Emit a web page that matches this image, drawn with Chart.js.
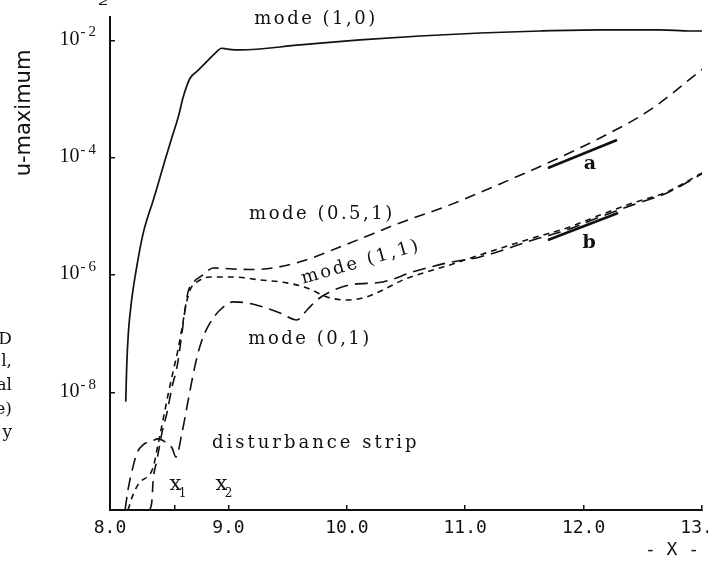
<!DOCTYPE html>
<html>
<head>
<meta charset="utf-8">
<script src="https://cdn.jsdelivr.net/npm/chart.js@4/dist/chart.umd.min.js"></script>
<style>
  html, body { margin: 0; padding: 0; background: #fff; overflow: hidden; }
  #wrap { position: relative; width: 708px; height: 561px; overflow: hidden; }
</style>
</head>
<body>
<div id="wrap"><canvas id="chart" width="730" height="561"></canvas></div>
<script>
const INK = '#111';

// axis ticks
const xTickValues = [8, 8.55, 9, 10, 11, 12, 13];
const xTickLabels = ['8.0', '', '9.0', '10.0', '11.0', '12.0', '13.0'];
const yTickValues = [1e-8, 1e-6, 1e-4, 1e-2];
const yTickExps = ['-8', '-6', '-4', '-2'];

// mode (1,0) - solid
const mode10X = [8.133, 8.141, 8.155, 8.183, 8.226, 8.281, 8.366, 8.408, 8.465, 8.521, 8.577, 8.619, 8.676, 8.732, 8.817, 8.887, 8.943, 8.986, 9.098, 9.605, 10.111, 10.618, 11.125, 11.632, 12.139, 12.645, 12.899, 13.0];
const mode10Y = [7.0e-9, 2.77e-8, 1.04e-7, 3.79e-7, 1.40e-6, 5.26e-6, 1.92e-5, 3.69e-5, 9.2e-5, 2.16e-4, 5.0e-4, 1.10e-3, 2.27e-3, 2.94e-3, 4.36e-3, 6.05e-3, 7.36e-3, 7.16e-3, 6.89e-3, 8.38e-3, 1.02e-2, 1.19e-2, 1.34e-2, 1.45e-2, 1.51e-2, 1.51e-2, 1.45e-2, 1.45e-2];

// mode (0.5,1) - long dashes
const mode051X = [8.338, 8.355, 8.363, 8.397, 8.439, 8.481, 8.524, 8.566, 8.608, 8.633, 8.659, 8.701, 8.785, 8.870, 9.039, 9.208, 9.377, 9.605, 10.027, 10.449, 10.872, 11.294, 11.716, 12.139, 12.561, 13.0];
const mode051Y = [1.0e-10, 1.49e-10, 2.90e-10, 7.13e-10, 2.06e-9, 4.51e-9, 1.25e-8, 2.74e-8, 1.04e-7, 2.56e-7, 5.20e-7, 7.40e-7, 1.01e-6, 1.33e-6, 1.28e-6, 1.25e-6, 1.33e-6, 1.69e-6, 3.55e-6, 7.78e-6, 1.58e-5, 3.59e-5, 8.51e-5, 2.18e-4, 6.55e-4, 3.2e-3];

// mode (1,1) - short dashes
const mode11X = [8.152, 8.194, 8.253, 8.313, 8.363, 8.405, 8.448, 8.490, 8.532, 8.574, 8.608, 8.642, 8.676, 8.735, 8.845, 9.039, 9.267, 9.495, 9.664, 9.833, 9.985, 10.137, 10.306, 10.475, 10.728, 10.872, 11.125, 11.573, 11.860, 12.139, 12.417, 12.704, 13.0];
const mode11Y = [1.0e-10, 1.81e-10, 3.01e-10, 3.66e-10, 5.21e-10, 1.29e-9, 3.43e-9, 9.14e-9, 2.25e-8, 5.33e-8, 1.26e-7, 3.12e-7, 5.62e-7, 7.69e-7, 9.35e-7, 9.35e-7, 8.32e-7, 7.40e-7, 6.08e-7, 4.27e-7, 3.79e-7, 4.10e-7, 5.62e-7, 8.32e-7, 1.23e-6, 1.50e-6, 2.22e-6, 4.32e-6, 6.40e-6, 1.06e-5, 1.71e-5, 2.62e-5, 5.53e-5];

// mode (0,1) - long dashes, starts with the arc over the disturbance strip
const mode01X = [8.127, 8.152, 8.194, 8.228, 8.279, 8.355, 8.405, 8.465, 8.524, 8.557, 8.608, 8.650, 8.693, 8.735, 8.777, 8.845, 8.929, 9.039, 9.157, 9.292, 9.436, 9.579, 9.664, 9.748, 9.858, 10.027, 10.306, 10.559, 10.846, 11.125, 11.573, 11.860, 12.139, 12.417, 12.704, 13.0];
const mode01Y = [1.0e-10, 2.20e-10, 5.42e-10, 9.4e-10, 1.29e-9, 1.50e-9, 1.63e-9, 1.45e-9, 1.14e-9, 8.0e-10, 2.06e-9, 5.70e-9, 1.64e-8, 4.06e-8, 7.91e-8, 1.54e-7, 2.56e-7, 3.51e-7, 3.37e-7, 2.88e-7, 2.28e-7, 1.73e-7, 2.56e-7, 3.79e-7, 5.20e-7, 6.84e-7, 7.69e-7, 1.14e-6, 1.62e-6, 2.05e-6, 3.99e-6, 5.92e-6, 9.84e-6, 1.58e-5, 2.52e-5, 5.32e-5];

// short reference slopes a and b
const slopeAX = [11.699, 12.282];
const slopeAY = [6.73e-5, 2.02e-4];
const slopeBX = [11.699, 12.291];
const slopeBY = [3.99e-6, 1.15e-5];

const toPoints = (xs, ys) => xs.map((x, i) => ({ x, y: ys[i] }));

// curve labels, placed in data coordinates
const curveNotes = [
    { text: 'mode (1,0)', x: 9.74, y: Math.pow(10, -1.64), rot: 0 },
    { text: 'mode (0.5,1)', x: 9.79, y: Math.pow(10, -4.97), rot: 0 },
    { text: 'mode (1,1)', x: 10.12, y: Math.pow(10, -5.78), rot: -16 },
    { text: 'mode (0,1)', x: 9.69, y: Math.pow(10, -7.10), rot: 0 }
];

const figureText = {
    id: 'figureText',
    afterDraw(chart) {
        const ctx = chart.ctx;
        const xs = chart.scales.x;
        const ys = chart.scales.y;
        ctx.save();
        ctx.fillStyle = INK;

        // y tick labels 10^-n
        yTickValues.forEach((v, i) => {
            const py = ys.getPixelForValue(v);
            ctx.textBaseline = 'middle';
            ctx.textAlign = 'right';
            ctx.font = '15px "Liberation Serif"';
            ctx.letterSpacing = '3px';
            const ew = ctx.measureText(yTickExps[i]).width;
            ctx.fillText(yTickExps[i], 99, py - 8);
            ctx.letterSpacing = '0px';
            ctx.font = '20px "Liberation Serif"';
            ctx.fillText('10', 99 - ew - 1, py - 1);
        });

        // curve labels
        ctx.font = '18px "DejaVu Serif"';
        ctx.letterSpacing = '2.5px';
        ctx.textAlign = 'center';
        ctx.textBaseline = 'middle';
        curveNotes.forEach(n => {
            ctx.save();
            ctx.translate(xs.getPixelForValue(n.x), ys.getPixelForValue(n.y));
            ctx.rotate(n.rot * Math.PI / 180);
            ctx.fillText(n.text, 0, 0);
            ctx.restore();
        });

        ctx.textAlign = 'left';
        ctx.letterSpacing = '3px';
        ctx.fillText('disturbance strip', xs.getPixelForValue(8.861), ys.getPixelForValue(Math.pow(10, -8.86)));
        ctx.letterSpacing = '0px';

        // x1, x2 marks
        [[8.553, '1'], [8.942, '2']].forEach(([xv, sub]) => {
            const px = xs.getPixelForValue(xv);
            const py = ys.getPixelForValue(Math.pow(10, -9.6));
            ctx.textAlign = 'center';
            ctx.font = '21px "DejaVu Serif"';
            ctx.fillText('x', px, py - 2);
            ctx.font = '12px "DejaVu Serif"';
            ctx.fillText(sub, px + 7, py + 7);
        });

        // a, b
        ctx.font = 'bold 19px "DejaVu Serif"';
        ctx.textAlign = 'center';
        ctx.fillText('a', xs.getPixelForValue(12.054), ys.getPixelForValue(Math.pow(10, -4.10)));
        ctx.fillText('b', xs.getPixelForValue(12.046), ys.getPixelForValue(Math.pow(10, -5.45)));

        // axis titles
        ctx.font = '21px "DejaVu Sans"';
        ctx.save();
        ctx.translate(25, 113);
        ctx.rotate(-Math.PI / 2);
        ctx.fillText('u-maximum', 0, 0);
        ctx.restore();

        ctx.font = '18px "DejaVu Sans Mono"';
        ctx.fillText('- X -', 672, 550);

        // caption fragments cut at the left edge
        ctx.font = '17px "DejaVu Serif"';
        ctx.textAlign = 'right';
        [['D', 340], ['l,', 362], ['al', 386], ['e)', 410], ['y', 433]].forEach(([t, y]) => ctx.fillText(t, 12, y));

        ctx.font = '11px "DejaVu Sans"';
        ctx.save();
        ctx.translate(104, 2);
        ctx.rotate(-Math.PI / 2);
        ctx.textAlign = 'center';
        ctx.fillText('N', 0, 0);
        ctx.restore();

        ctx.restore();
    }
};

const lineSet = (data, dash, width) => ({
    data,
    borderColor: INK,
    borderWidth: width,
    borderDash: dash,
    pointRadius: 0,
    fill: false,
    cubicInterpolationMode: 'monotone'
});

new Chart(document.getElementById('chart'), {
    type: 'line',
    data: {
        datasets: [
            lineSet(toPoints(mode10X, mode10Y), [], 1.7),
            lineSet(toPoints(mode051X, mode051Y), [11, 7], 1.6),
            lineSet(toPoints(mode11X, mode11Y), [6, 5], 1.6),
            lineSet(toPoints(mode01X, mode01Y), [13, 7], 1.6),
            lineSet(toPoints(slopeAX, slopeAY), [], 2.6),
            lineSet(toPoints(slopeBX, slopeBY), [], 2.6)
        ]
    },
    options: {
        responsive: false,
        animation: false,
        devicePixelRatio: 1,
        layout: { padding: { left: 0, top: 17, right: 28, bottom: 0 } },
        plugins: { legend: { display: false }, tooltip: { enabled: false } },
        scales: {
            x: {
                type: 'linear',
                min: 8,
                max: 13,
                afterBuildTicks: s => { s.ticks = xTickValues.map(v => ({ value: v })); },
                afterFit: s => { s.height = 51; s.paddingLeft = 0; s.paddingRight = 0; },
                grid: { drawOnChartArea: false, drawTicks: true, tickLength: -5, color: INK, lineWidth: 1.5 },
                border: { display: true, color: INK, width: 2 },
                ticks: {
                    autoSkip: false,
                    maxRotation: 0,
                    padding: 13,
                    color: INK,
                    font: { family: 'DejaVu Sans Mono', size: 18 },
                    callback: (v, i) => xTickLabels[i]
                }
            },
            y: {
                type: 'logarithmic',
                min: 1e-10,
                max: 0.0251,
                afterBuildTicks: s => { s.ticks = yTickValues.map(v => ({ value: v })); },
                afterFit: s => { s.width = 110; },
                grid: { drawOnChartArea: false, drawTicks: true, tickLength: -5, color: INK, lineWidth: 1.5 },
                border: { display: true, color: INK, width: 2 },
                ticks: { display: false }
            }
        }
    },
    plugins: [figureText]
});
</script>
</body>
</html>
